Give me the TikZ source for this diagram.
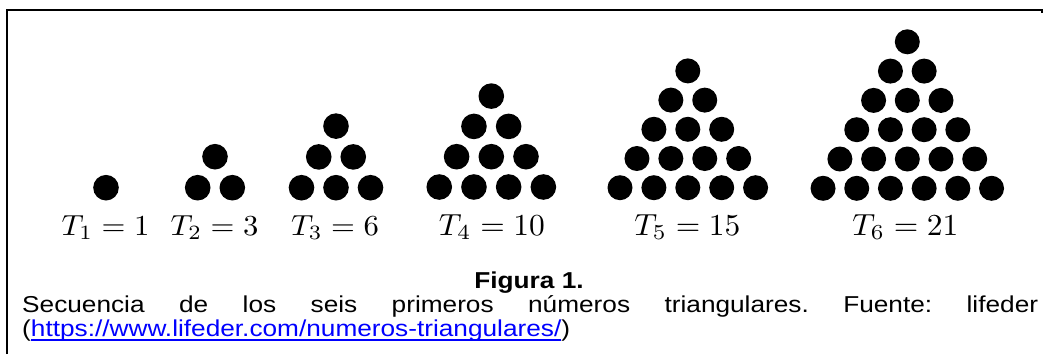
\documentclass[tikz,border=0pt]{standalone}
\usepackage{fontspec}
\usepackage{graphicx}
\newfontfamily\capfont[FakeStretch=1.14]{Liberation Sans}
\definecolor{linkblue}{RGB}{0,0,255}
\tikzset{
  dot/.style={circle,fill=black,draw=none,inner sep=0pt,minimum size=#1},
  lbl/.style={anchor=base,inner sep=0pt},
  captxt/.style={inner sep=0pt,anchor=base west,font=\capfont\fontsize{23}{23}\selectfont},
  frame/.style={line width=2pt}
}
\newcommand\tri[7]{%
  \foreach \j in {1,...,#2}{\foreach \i in {1,...,\j}{
    \node[dot=#7pt] (#1-\j-\i) at ({#3+(\i-(\j+1)/2)*#5},{#4-(#2-\j)*#6}) {};
  }}}
\newcommand\wordul[1]{\setbox0\hbox{#1}\rlap{\rule[-4.5pt]{\wd0}{1.2pt}}\box0}
\begin{document}
\begin{tikzpicture}[x=1pt,y=-1pt]
\useasboundingbox (0,0) rectangle (1045,354);
\fill[white] (0,0) rectangle (1045,354);
\coordinate (fb) at (7,354);
\coordinate (ftl) at (7,10);
\coordinate (ftr) at (1042,10);
\coordinate (ftk) at (1042,13);
\draw[frame] (fb) -- (ftl) -- (ftr) -- (ftk);
% triangles
\tri{a}{1}{106}{187.7}{34.6}{30.8}{25.6}
\tri{b}{2}{215}{187.7}{34.6}{31}{25.6}
\tri{c}{3}{336}{187.7}{34.5}{30.8}{25.6}
\tri{d}{4}{491.3}{187}{34.7}{30.3}{25.6}
\tri{e}{5}{687.8}{187.7}{33.9}{29.2}{25}
\tri{f}{6}{907.3}{188.3}{33.7}{29.3}{25}
% labels
\node[lbl] (t1) at (105.5,235) {\scalebox{3.07}[2.9]{$T_1=1$}};
\node[lbl] (t2) at (214.5,235) {\scalebox{3.07}[2.9]{$T_2=3$}};
\node[lbl] (t3) at (335,235) {\scalebox{3.07}[2.9]{$T_3=6$}};
\node[lbl] (t4) at (492,235) {\scalebox{3.15}[3.05]{$T_4=10$}};
\node[lbl] (t5) at (687.5,235) {\scalebox{3.15}[3.05]{$T_5=15$}};
\node[lbl] (t6) at (905.5,235) {\scalebox{3.15}[3.05]{$T_6=21$}};
% caption
\node[captxt,anchor=base] (fig) at (529,288) {\bfseries Figura 1.};
\node[captxt] (l1) at (22,312) {\hbox to 1016pt{Secuencia\hfill de\hfill los\hfill seis\hfill primeros\hfill números\hfill triangulares.\hfill Fuente:\hfill lifeder}};
\node[captxt] (l2) at (22,336) {(\textcolor{linkblue}{\wordul{https://www.lifeder.com/numeros-triangulares/}})};
\end{tikzpicture}
\end{document}
